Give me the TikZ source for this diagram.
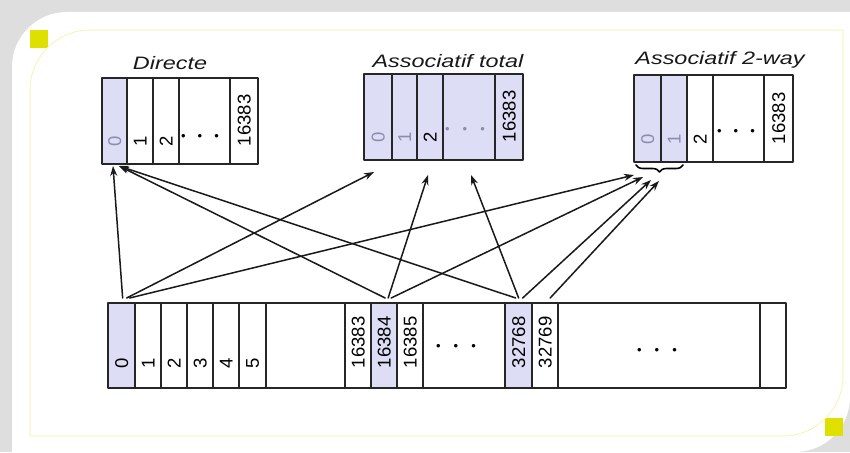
\documentclass[tikz,border=0pt]{standalone}
\usepackage{fontspec}
\setmainfont{Liberation Sans}
\usetikzlibrary{arrows.meta,decorations.pathreplacing}
\definecolor{lav}{RGB}{221,221,246}
\definecolor{lavtxt}{RGB}{140,140,175}
\definecolor{frameyel}{RGB}{224,224,0}
\definecolor{bgray}{RGB}{222,222,222}
\begin{document}
\begin{tikzpicture}[x=1pt, y=-1pt, >={Stealth[length=10pt,width=7pt]}, line join=round, line cap=round,
	cell/.style={draw=black!85, line width=2.3pt, anchor=north west, inner sep=0pt},
	lbl/.style={rotate=90, anchor=west, inner sep=0pt, font=\fontsize{18.5}{18.5}\selectfont},
	ttl/.style={inner sep=0pt, xscale=1.3, text=black!90, font=\fontsize{18}{18}\selectfont\itshape},
	dts/.style={inner sep=0pt, font=\fontsize{13}{13}\selectfont},
	arr/.style={->, line width=1.5pt, black!90}]
	\useasboundingbox (0,0) rectangle (850,452);
	% frame
	\fill[bgray] (0,0) rectangle (850,452);
	\fill[white] (12,452) -- (12,67) arc[start angle=180, end angle=270, radius=55] -- (850,12)
		-- (850,397) arc[start angle=0, end angle=90, radius=55] -- cycle;
	\fill[frameyel] (30,30) rectangle (48,48);
	\fill[frameyel] (825,418) rectangle (843,436);
	\filldraw[fill=white, draw=frameyel!40, line width=0.6pt] (30,436) -- (30,90) arc[start angle=180, end angle=270, radius=60]
		-- (843,30) -- (843,376) arc[start angle=0, end angle=90, radius=60] -- cycle;
	% titles
	\node[ttl] (tdir) at (170,63) {Directe};
	\node[ttl] (ttot) at (448,61) {Associatif total};
	\node[ttl] (ttw) at (720,60) {Associatif 2-way};
	% Directe
	\def\ytop{77}
	\foreach \l/\r/\n/\f/\c/\t in {101/126/dir0/lav/lavtxt/0, 126/152/dir1/white/black/1, 152/178/dir2/white/black/2,
		178/229/dirg/white/black/{}, 229/257/dirn/white/black/16383}{
		\pgfmathsetmacro\w{\r-\l}
		\node[cell, fill=\f, minimum width=\w pt, minimum height=86pt] (\n) at (\l,\ytop) {};
		\node[lbl, text=\c] (\n-t) at ([yshift=19pt]\n.south) {\t};
	}
	\node[dts] (dir-d) at (200,137) {•\hspace{12pt}•\hspace{12pt}•};
	% Associatif total
	\def\ytop{73}
	\foreach \l/\r/\n/\f/\c/\t in {363/391/tot0/lav/lavtxt/0, 391/416/tot1/lav/lavtxt/1, 416/442/tot2/lav/black/2,
		442/494/totg/lav/black/{}, 494/522/totn/lav/black/16383}{
		\pgfmathsetmacro\w{\r-\l}
		\node[cell, fill=\f, minimum width=\w pt, minimum height=86pt] (\n) at (\l,\ytop) {};
		\node[lbl, text=\c] (\n-t) at ([yshift=19pt]\n.south) {\t};
	}
	\node[dts, text=lavtxt] (tot-d) at (465,130) {•\hspace{13pt}•\hspace{13pt}•};
	% Associatif 2-way
	\def\ytop{74}
	\foreach \l/\r/\n/\f/\c/\t in {633/660/tw0/lav/lavtxt/0, 660/686/tw1/lav/lavtxt/1, 686/712/tw2/white/black/2,
		712/763/twg/white/black/{}, 763/792/twn/white/black/16383}{
		\pgfmathsetmacro\w{\r-\l}
		\node[cell, fill=\f, minimum width=\w pt, minimum height=87pt] (\n) at (\l,\ytop) {};
		\node[lbl, text=\c] (\n-t) at ([yshift=19pt]\n.south) {\t};
	}
	\node[dts] (tw-d) at (736,132) {•\hspace{12pt}•\hspace{12pt}•};
	\draw[decorate, decoration={brace, amplitude=7pt}, line width=1.6pt] (683,165) -- (636,165);
	% memoire
	\def\ytop{302}
	\foreach \l/\r/\n/\f/\t in {107/134/c0/lav/0, 134/160/c1/white/1, 160/186/c2/white/2, 186/212/c3/white/3,
		212/238/c4/white/4, 238/265/c5/white/5, 265/344/g1/white/{}, 344/370/c16383/white/16383,
		370/396/c16384/lav/16384, 396/422/c16385/white/16385, 422/504/g2/white/{}, 504/531/c32768/lav/32768,
		531/557/c32769/white/32769, 557/759/g3/white/{}, 759/785/gend/white/{}}{
		\pgfmathsetmacro\w{\r-\l}
		\node[cell, fill=\f, minimum width=\w pt, minimum height=85pt] (\n) at (\l,\ytop) {};
		\node[lbl] (\n-t) at ([yshift=21pt]\n.south) {\t};
	}
	\node[dts] (g2-d) at (456,347) {•\hspace{13pt}•\hspace{13pt}•};
	\node[dts] (g3-d) at (657,351) {•\hspace{13pt}•\hspace{13pt}•};
	% arrow ends
	\coordinate (dA) at (113,166);
	\coordinate (dB) at (119,166);
	\coordinate (tA) at (374,172);
	\coordinate (tB) at (428,175);
	\coordinate (tC) at (471,175);
	\coordinate (wA) at (634,175);
	\coordinate (wB) at (643,177);
	\coordinate (wC) at (651,180);
	\coordinate (wD) at (659,181);
	\draw[arr] ([shift={(1pt,4pt)}]c0.north) -- (dA);
	\draw[arr] ([shift={(5pt,4pt)}]c0.north) -- (tA);
	\draw[arr] ([shift={(8pt,4pt)}]c0.north) -- (wA);
	\draw[arr] ([shift={(1pt,4pt)}]c16384.north) -- (dB);
	\draw[arr] ([shift={(4pt,4pt)}]c16384.north) -- (tB);
	\draw[arr] ([shift={(7pt,4pt)}]c16384.north) -- (wB);
	\draw[arr] ([shift={(-3pt,4pt)}]c32768.north) -- (dB);
	\draw[arr] ([shift={(0pt,4pt)}]c32768.north) -- (tC);
	\draw[arr] ([shift={(4pt,4pt)}]c32768.north) -- (wC);
	\draw[arr] ([shift={(5pt,4pt)}]c32769.north) -- (wD);
\end{tikzpicture}
\end{document}
